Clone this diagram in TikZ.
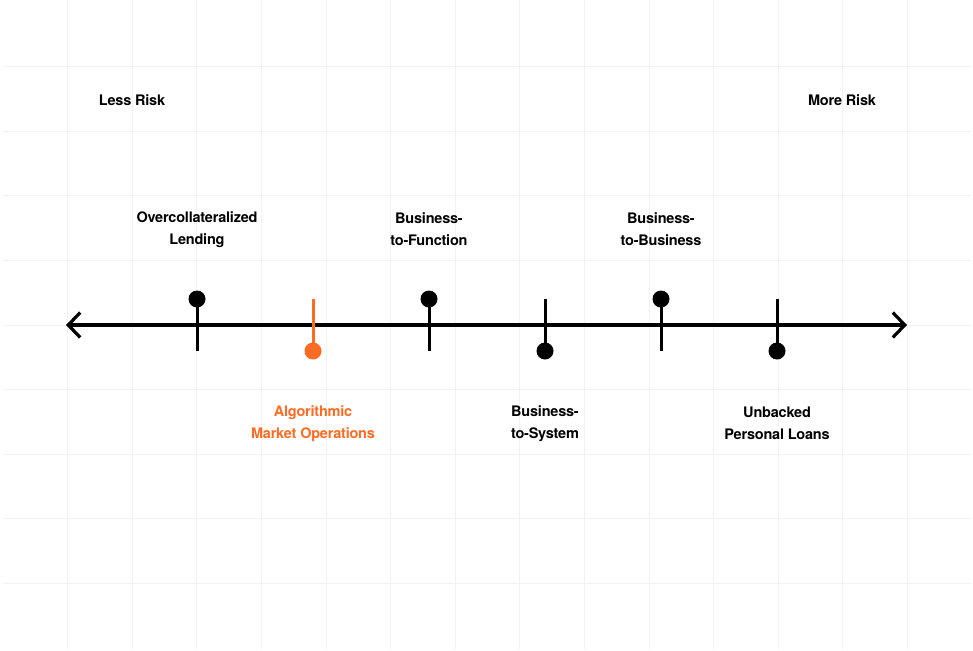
\documentclass[tikz,border=0pt]{standalone}
\usepackage{fontspec}
\setmainfont{TeX Gyre Heros}[LetterSpace=-1.5]
\usetikzlibrary{arrows.meta}
\definecolor{gridc}{HTML}{F2F2F2}
\definecolor{orng}{HTML}{FF6B22}
\tikzset{
  lbl/.style={font=\bfseries\fontsize{14.5}{22}\selectfont, align=center, text=black, inner sep=0pt},
  olbl/.style={lbl, text=orng},
  dot/.style={circle, fill=black, minimum size=17pt, inner sep=0pt},
  odot/.style={dot, fill=orng},
  tickln/.style={line width=3pt},
}
\begin{document}
\begin{tikzpicture}[x=1pt,y=-1pt]
\useasboundingbox (0,0) rectangle (973,650);
\fill[white] (0,0) rectangle (973,650);
% grid
\foreach \i in {1,...,14} {
  \draw[gridc, line width=0.8pt] ({3+64.6*\i},0) -- ({3+64.6*\i},649);
}
\foreach \j in {1,...,9} {
  \draw[gridc, line width=0.8pt] (3,{2+64.6*\j}) -- (971,{2+64.6*\j});
}
% axis
\coordinate (axl) at (66,325);
\coordinate (axr) at (907,325);
\draw[line width=3.2pt, {Straight Barb[length=12pt,width=25pt]}-{Straight Barb[length=12pt,width=25pt]}] (axl) -- (axr);
% ticks
\node[dot] (d1) at (197,299) {};
\coordinate (t1) at (197,351);
\draw[tickln] (t1) -- (d1.center);
\node[odot] (d2) at (313,351) {};
\coordinate (t2) at (313,299);
\draw[tickln, orng] (t2) -- (d2.center);
\node[dot] (d3) at (429,299) {};
\coordinate (t3) at (429,351);
\draw[tickln] (t3) -- (d3.center);
\node[dot] (d4) at (545,351) {};
\coordinate (t4) at (545,299);
\draw[tickln] (t4) -- (d4.center);
\node[dot] (d5) at (661,299) {};
\coordinate (t5) at (661,351);
\draw[tickln] (t5) -- (d5.center);
\node[dot] (d6) at (777,351) {};
\coordinate (t6) at (777,299);
\draw[tickln] (t6) -- (d6.center);
% labels
\node[lbl] (less) at (132,100) {Less Risk};
\node[lbl] (more) at (842,100) {More Risk};
\node[lbl] (l1) at (197,229.5) {Overcollateralized\\Lending};
\node[olbl] (l2) at (313,423.5) {Algorithmic\\Market Operations};
\node[lbl] (l3) at (429,229.5) {Business-\\to-Function};
\node[lbl] (l4) at (545,423.5) {Business-\\to-System};
\node[lbl] (l5) at (661,229.5) {Business-\\to-Business};
\node[lbl] (l6) at (777,423.5) {Unbacked\\Personal Loans};
\end{tikzpicture}
\end{document}
